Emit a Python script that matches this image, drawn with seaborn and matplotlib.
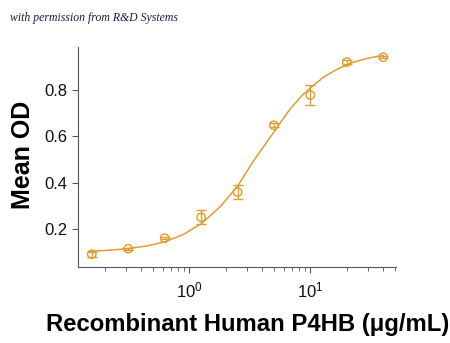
import numpy as np
import pandas as pd
import matplotlib
matplotlib.use("Agg")
import matplotlib.pyplot as plt
import matplotlib.ticker as mticker
import seaborn as sns

# Measured points
conc = [0.156, 0.3125, 0.625, 1.25, 2.5, 5, 10, 20, 40]
mean_od = [0.092, 0.116, 0.161, 0.251, 0.360, 0.648, 0.778, 0.920, 0.941]
err_od = [0.010, 0.004, 0.004, 0.030, 0.030, 0.008, 0.042, 0.008, 0.004]

# Fitted curve
curve_x = [0.15, 0.2, 0.3, 0.45, 0.63, 0.9, 1.27, 1.8, 2.5, 3.4, 4.5, 5.5,
           6.8, 8.5, 10, 13, 17, 22, 28, 35, 40]
curve_y = [0.105, 0.108, 0.115, 0.128, 0.146, 0.178, 0.226, 0.297, 0.385,
           0.495, 0.585, 0.650, 0.718, 0.775, 0.809, 0.857, 0.892, 0.917,
           0.933, 0.944, 0.948]

yticks = [0.2, 0.4, 0.6, 0.8]
xlabel = "Recombinant Human P4HB (\u03bcg/mL)"
ylabel = "Mean OD"
note = "with permission from R&D Systems"

color = "#E09E2C"

sns.set_style("ticks")
plt.rcParams["font.family"] = ["Liberation Sans", "DejaVu Sans"]
plt.rcParams["mathtext.default"] = "regular"

fig = plt.figure(figsize=(4.5, 3.43), dpi=100)
ax = fig.add_axes([0.1733, 0.2216, 0.7067, 0.6414])

curve_df = pd.DataFrame({"x": curve_x, "y": curve_y})
pts_df = pd.DataFrame({"x": conc, "y": mean_od})

sns.lineplot(data=curve_df, x="x", y="y", ax=ax, color=color, linewidth=1.1)
ax.errorbar(conc, mean_od, yerr=err_od, fmt="none", ecolor=color,
            elinewidth=1.0, capsize=3.5, capthick=1.0, zorder=3)
sns.scatterplot(data=pts_df, x="x", y="y", ax=ax, marker="o", s=36,
                facecolor="none", edgecolor=color, linewidth=1.0, zorder=4)

ax.set_xscale("log")
ax.set_xlim(0.12, 51)
ax.set_ylim(0.037, 0.985)
ax.set_yticks(yticks)
ax.set_yticklabels([f"{v:.1f}" for v in yticks])
ax.xaxis.set_major_locator(mticker.FixedLocator([1, 10]))
ax.xaxis.set_major_formatter(mticker.LogFormatterMathtext())
ax.xaxis.set_minor_locator(mticker.LogLocator(base=10, subs=np.arange(2, 10)))
ax.xaxis.set_minor_formatter(mticker.NullFormatter())

for s in ["top", "right"]:
    ax.spines[s].set_visible(False)
for s in ["left", "bottom"]:
    ax.spines[s].set_color("#555555")
    ax.spines[s].set_linewidth(0.8)

ax.tick_params(axis="both", which="major", length=4, width=0.8,
               color="#555555", labelsize=12, labelcolor="#111111")
ax.tick_params(axis="x", which="minor", length=3, width=0.6, color="#555555")
ax.tick_params(axis="x", which="major", pad=6)

ax.set_xlabel(xlabel, fontsize=17.2, fontweight="bold", labelpad=9,
              color="#000000")
ax.xaxis.label.set_x(0.535)
ax.set_ylabel(ylabel, fontsize=18, fontweight="bold", color="#000000")
ax.yaxis.set_label_coords(-0.135, 0.509)

fig.text(0.022, 0.948, note, fontsize=8.5, fontstyle="italic",
         family="Liberation Serif", color="#1a1a40", va="center")

fig.savefig("out.png", dpi=100)
